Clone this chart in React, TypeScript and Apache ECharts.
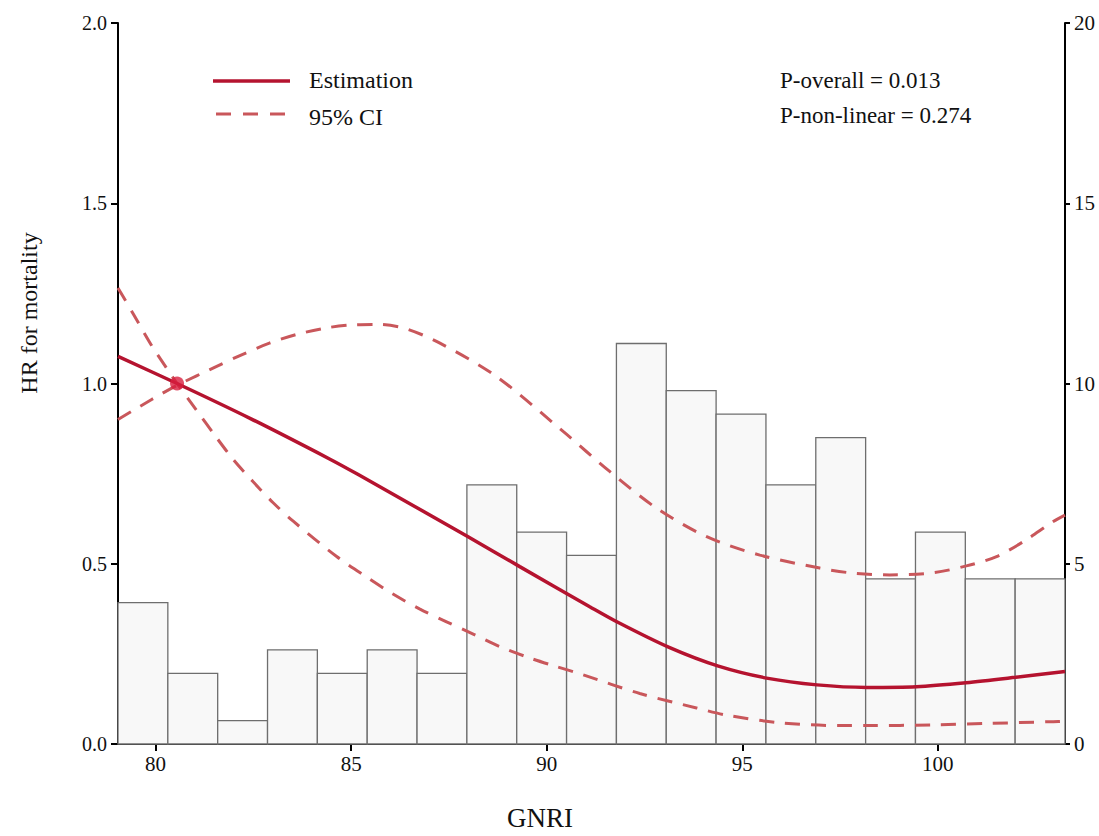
import React, { useEffect, useRef } from "react";
import * as echarts from "echarts";

// Histogram of GNRI distribution (% of patients), 19 bins
const GNRI_MIN = 79.04;
const GNRI_MAX = 103.25;
const BIN_COUNT = 19;
const binPercent = [3.92, 1.96, 0.65, 2.61, 1.96, 2.61, 1.96, 7.19, 5.88, 5.23, 11.11, 9.8, 9.15, 7.19, 8.5, 4.58, 5.88, 4.58, 4.58];

// Restricted cubic spline: HR estimate
const estX = [79.04, 80.55, 82.44, 84.46, 85.17, 87.99, 89.31, 91.1, 91.83, 93.13, 94.39, 95.66, 96.91, 98.18, 99.45, 100.72, 101.99, 103.25];
const estY = [1.075, 1.0, 0.902, 0.79, 0.748, 0.575, 0.492, 0.381, 0.337, 0.268, 0.216, 0.182, 0.164, 0.157, 0.159, 0.17, 0.185, 0.201];

// Upper 95% CI
const upX = [79.04, 79.89, 80.55, 81.55, 82.23, 82.91, 83.64, 84.41, 85.09, 85.7, 86.4, 87.27, 88.72, 90.42, 91.61, 92.81, 94.09, 95.45, 96.98, 97.75, 98.77, 99.88, 100.73, 101.5, 102.18, 102.95, 103.25];
const upY = [0.9, 0.955, 0.995, 1.047, 1.081, 1.112, 1.137, 1.155, 1.163, 1.164, 1.152, 1.112, 1.019, 0.867, 0.756, 0.654, 0.575, 0.524, 0.488, 0.475, 0.469, 0.475, 0.494, 0.52, 0.561, 0.617, 0.635];

// Lower 95% CI
const loX = [79.04, 79.42, 79.89, 80.31, 80.55, 81.04, 81.51, 81.98, 82.49, 83.0, 83.52, 84.63, 85.44, 86.07, 86.76, 87.44, 88.12, 88.8, 89.53, 90.21, 90.93, 92.38, 93.83, 94.6, 95.96, 97.49, 98.18, 99.88, 101.25, 102.95, 103.25];
const loY = [1.265, 1.195, 1.107, 1.038, 1.0, 0.927, 0.857, 0.79, 0.728, 0.67, 0.618, 0.52, 0.46, 0.416, 0.374, 0.339, 0.305, 0.27, 0.24, 0.216, 0.192, 0.14, 0.1, 0.08, 0.059, 0.051, 0.051, 0.053, 0.057, 0.062, 0.063];

// Reference point
const refPoint = [80.55, 1.0];

const xTicks = [80, 85, 90, 95, 100];

const FONT = "Liberation Serif";
const EST_COLOR = "#b5132f";
const CI_COLOR = "#c9575b";

export default function App() {
  const ref = useRef<HTMLDivElement>(null);
  useEffect(() => {
    if (!ref.current) return;
    const chart = echarts.init(ref.current, null, { renderer: "svg" });
    const binW = (GNRI_MAX - GNRI_MIN) / BIN_COUNT;
    const hist = binPercent.map((p, i) => [GNRI_MIN + i * binW, GNRI_MIN + (i + 1) * binW, p]);
    const zip = (xs: number[], ys: number[]) => xs.map((x, i) => [x, ys[i]]);
    chart.setOption({
      animation: false,
      backgroundColor: "#ffffff",
      textStyle: { fontFamily: FONT },
      grid: { left: 118, right: 34, top: 23, bottom: 92 },
      xAxis: {
        type: "value",
        min: GNRI_MIN,
        max: GNRI_MAX,
        axisLine: { show: true, onZero: false, lineStyle: { color: "#000", width: 2 } },
        axisTick: { show: true, length: 7, customValues: xTicks, lineStyle: { color: "#000", width: 2 } },
        axisLabel: { customValues: xTicks, fontFamily: FONT, fontSize: 21, color: "#111", margin: 9 },
        splitLine: { show: false },
      },
      yAxis: [
        {
          type: "value",
          min: 0,
          max: 2,
          interval: 0.5,
          axisLine: { show: true, lineStyle: { color: "#000", width: 2 } },
          axisTick: { show: true, length: 7, lineStyle: { color: "#000", width: 2 } },
          axisLabel: { fontFamily: FONT, fontSize: 20, color: "#111", margin: 11, formatter: (v: number) => v.toFixed(1) },
          splitLine: { show: false },
        },
        {
          type: "value",
          min: 0,
          max: 20,
          interval: 5,
          position: "right",
          axisLine: { show: true, lineStyle: { color: "#000", width: 2 } },
          axisTick: { show: true, length: 5, lineStyle: { color: "#000", width: 2 } },
          axisLabel: { fontFamily: FONT, fontSize: 21, color: "#111", margin: 9 },
          splitLine: { show: false },
        },
      ],
      series: [
        {
          type: "custom",
          name: "Distribution",
          xAxisIndex: 0,
          yAxisIndex: 1,
          encode: { x: [0, 1], y: 2 },
          data: hist,
          z: 1,
          renderItem: (params: any, api: any) => {
            const p0 = api.coord([api.value(0), 0]);
            const p1 = api.coord([api.value(1), api.value(2)]);
            return {
              type: "rect",
              shape: { x: p0[0], y: p1[1], width: p1[0] - p0[0], height: p0[1] - p1[1] },
              style: { fill: "#f8f8f8", stroke: "#6e6e6e", lineWidth: 1.3 },
            };
          },
        },
        {
          type: "line",
          name: "Estimation",
          data: zip(estX, estY),
          smooth: 0.3,
          symbol: "none",
          z: 4,
          lineStyle: { color: EST_COLOR, width: 3.5 },
          itemStyle: { color: EST_COLOR },
        },
        {
          type: "line",
          name: "95% CI",
          data: zip(upX, upY),
          smooth: 0.3,
          symbol: "none",
          z: 3,
          lineStyle: { color: CI_COLOR, width: 3, type: [15, 11] },
          itemStyle: { color: CI_COLOR },
        },
        {
          type: "line",
          name: "95% CI",
          data: zip(loX, loY),
          smooth: 0.3,
          symbol: "none",
          z: 3,
          lineStyle: { color: CI_COLOR, width: 3, type: [15, 11] },
          itemStyle: { color: CI_COLOR },
        },
        {
          type: "scatter",
          name: "Reference",
          data: [refPoint],
          symbolSize: 14,
          z: 5,
          itemStyle: { color: "#d81e3f" },
        },
      ],
      graphic: [
        // legend
        { type: "line", shape: { x1: 213, y1: 81, x2: 290, y2: 81 }, style: { stroke: EST_COLOR, lineWidth: 3.5 } },
        { type: "text", x: 309, y: 80, style: { text: "Estimation", fontFamily: FONT, fontSize: 24, fill: "#111", verticalAlign: "middle" } },
        { type: "line", shape: { x1: 216, y1: 114, x2: 290, y2: 114 }, style: { stroke: CI_COLOR, lineWidth: 3, lineDash: [15, 12] } },
        { type: "text", x: 309, y: 117, style: { text: "95% CI", fontFamily: FONT, fontSize: 24, fill: "#111", verticalAlign: "middle" } },
        // p-values
        { type: "text", x: 780, y: 80, style: { text: "P-overall = 0.013", fontFamily: FONT, fontSize: 23, fill: "#111", verticalAlign: "middle" } },
        { type: "text", x: 780, y: 115, style: { text: "P-non-linear = 0.274", fontFamily: FONT, fontSize: 23, fill: "#111", verticalAlign: "middle" } },
        // axis titles
        { type: "text", x: 29, y: 313, rotation: Math.PI / 2, style: { text: "HR for mortality", fontFamily: FONT, fontSize: 24, fill: "#111", align: "center", verticalAlign: "middle" } },
        { type: "text", x: 540, y: 818, style: { text: "GNRI", fontFamily: FONT, fontSize: 27, fill: "#111", align: "center", verticalAlign: "middle" } },
      ],
    });
    return () => chart.dispose();
  }, []);
  return <div ref={ref} style={{ position: "fixed", left: 0, top: 0, width: 1099, height: 836, background: "#fff" }} />;
}
